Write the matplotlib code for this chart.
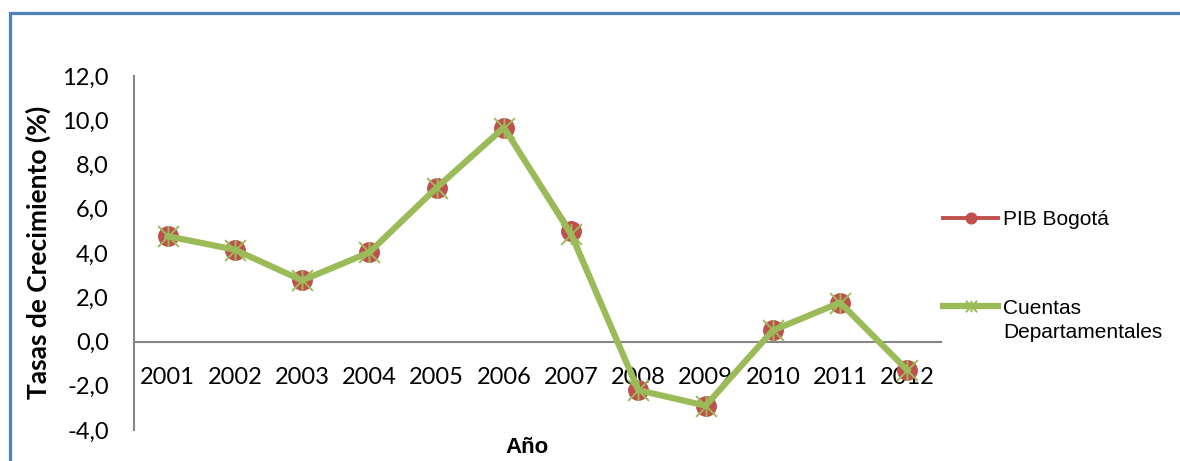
import matplotlib
matplotlib.use("Agg")
import matplotlib.pyplot as plt
from matplotlib.patches import Rectangle
from matplotlib.path import Path
from matplotlib.ticker import FuncFormatter, MultipleLocator

years = ["2001", "2002", "2003", "2004", "2005", "2006", "2007", "2008", "2009", "2010", "2011", "2012"]
pib_bogota = [4.76, 4.15, 2.76, 4.03, 6.95, 9.67, 4.98, -2.20, -2.90, 0.50, 1.76, -1.30]
cuentas_dep = [4.76, 4.15, 2.76, 4.03, 6.95, 9.67, 4.85, -2.20, -2.90, 0.50, 1.76, -1.30]

W, H = 1180, 461
fig = plt.figure(figsize=(W / 100, H / 100), dpi=100)
ax = fig.add_axes([134 / W, 1 - 430 / H, (941 - 134) / W, (430 - 76) / H])

# outer border of chart area
fig.add_artist(Rectangle((10 / W, -0.2), 2.0, 1 - 13 / H + 0.2, transform=fig.transFigure,
                         fill=False, edgecolor="#4F81BD", linewidth=2.3, clip_on=False))

star = Path([(-1, -1), (1, 1), (-1, 1), (1, -1), (0, -1), (0, 1)],
            [Path.MOVETO, Path.LINETO, Path.MOVETO, Path.LINETO, Path.MOVETO, Path.LINETO])

x = list(range(len(years)))
ax.plot(x, pib_bogota, color="#C0504D", linewidth=2.8, marker="o", markersize=14,
        markeredgecolor="#C0504D", label="PIB Bogotá", zorder=3)
ax.plot(x, cuentas_dep, color="#9BBB59", linewidth=4.5, marker=star, markersize=15,
        markeredgewidth=1.4, markeredgecolor="#9BBB59", label="Cuentas", zorder=4)

ax.set_xlim(-0.5, len(years) - 0.5)
ax.set_ylim(-4, 12)
ax.yaxis.set_major_locator(MultipleLocator(2))
ax.yaxis.set_major_formatter(FuncFormatter(lambda v, p: f"{v:.1f}".replace(".", ",")))
ax.set_xticks(x)
ax.set_xticklabels(years)

for s in ["top", "right"]:
    ax.spines[s].set_visible(False)
ax.spines["bottom"].set_position(("data", 0))
for s in ["bottom", "left"]:
    ax.spines[s].set_color("#868686")
    ax.spines[s].set_linewidth(1.5)

ax.tick_params(axis="both", length=0, labelsize=17)
ax.tick_params(axis="x", pad=18)
ax.tick_params(axis="y", pad=18)
for lab in ax.get_xticklabels() + ax.get_yticklabels():
    lab.set_family("Lato")

fig.text(38 / W, 1 - 252 / H, "Tasas de Crecimiento (%)", rotation=90, ha="center", va="center",
         fontsize=19, fontweight="bold", family="Lato")
fig.text(527 / W, 1 - 447 / H, "Año", ha="center", va="center",
         fontsize=16, fontweight="bold", family="Liberation Sans")

leg_font = {"family": "Liberation Sans", "size": 15}
leg = fig.legend(loc="upper left", bbox_to_anchor=(943 / W, 1 - 210 / H), frameon=False,
                 prop=leg_font, handlelength=2.64, markerscale=0.55,
                 handletextpad=0.24, labelspacing=3.35, borderaxespad=0, borderpad=0)

# second line of the second legend label, placed under its first line
fig.canvas.draw()
bb = leg.get_texts()[1].get_window_extent()
x0, y0 = fig.transFigure.inverted().transform((bb.x0, bb.y0))
fig.text(x0, y0 - 5 / H, "Departamentales", ha="left", va="top", family=leg_font["family"],
         fontsize=leg_font["size"])

fig.savefig("out.png", dpi=100, facecolor="white")
